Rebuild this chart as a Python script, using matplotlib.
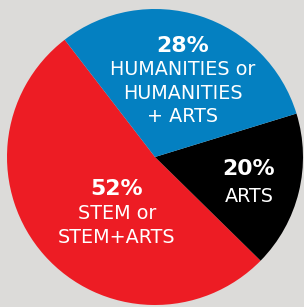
import matplotlib
matplotlib.use("Agg")
import matplotlib.pyplot as plt

# slice data (the graphic is not drawn exactly to scale, so wedge shares are read off the picture)
categories = ["STEM or\nSTEM+ARTS", "ARTS", "HUMANITIES or\nHUMANITIES\n+ ARTS"]
pct_labels = ["52%", "20%", "28%"]
slice_share = [52.2, 17.1, 30.7]
colors = ["#ed1c24", "#000000", "#0480c1"]

# label anchors (pixels from top-left): x centre, baseline of percent, baseline of first name line
label_pos = [(117, 195, 219), (249, 175, 202), (183, 52, 75)]
line_step = 23.7

W, H = 304, 307
fig = plt.figure(figsize=(W / 100, H / 100), dpi=100, facecolor="#dcdbd9")
ax = fig.add_axes([0, 0, 1, 1])
ax.axis("off")

ax.pie(slice_share, colors=colors, startangle=127.6, counterclock=True,
       center=(155, H - 157), radius=148,
       wedgeprops=dict(linewidth=0, antialiased=True))
ax.set_xlim(0, W)
ax.set_ylim(0, H)
ax.set_aspect("equal")

for (x, yp, yl), pct, name in zip(label_pos, pct_labels, categories):
    ax.text(x, H - yp, pct, color="white", fontsize=15.8, fontweight="bold",
            ha="center", va="baseline", family="DejaVu Sans")
    for i, line in enumerate(name.split("\n")):
        ax.text(x, H - (yl + i * line_step), line, color="white", fontsize=13.8,
                ha="center", va="baseline", family="DejaVu Sans")

fig.savefig("out.png", dpi=100, facecolor=fig.get_facecolor())
